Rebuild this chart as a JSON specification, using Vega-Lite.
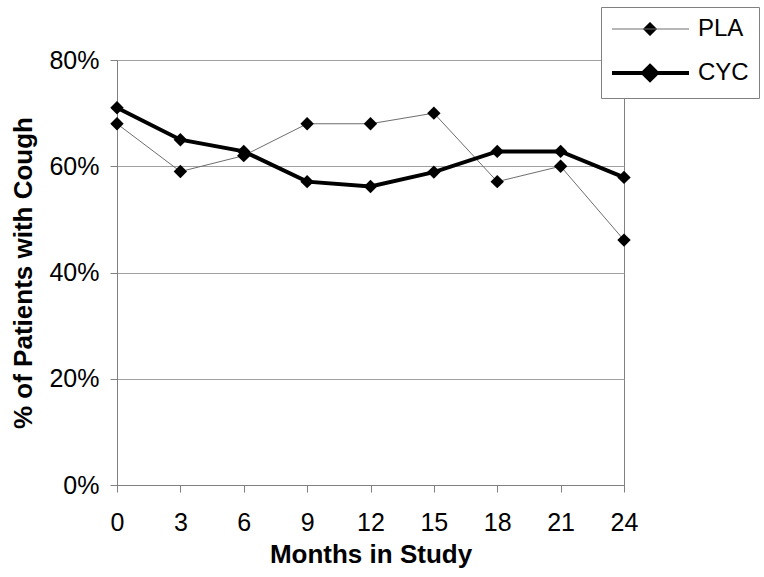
{
  "$schema": "https://vega.github.io/schema/vega-lite/v6.json",
  "width": 507,
  "height": 425,
  "autosize": {"type": "none"},
  "padding": {"left": 117, "top": 60, "right": 140, "bottom": 92},
  "background": "white",
  "config": {
    "font": "Liberation Sans",
    "view": {"stroke": "#808080", "strokeWidth": 1},
    "axis": {
      "labelFont": "Liberation Sans",
      "titleFont": "Liberation Sans",
      "labelFontSize": 25,
      "titleFontSize": 26,
      "labelColor": "black",
      "titleColor": "black",
      "domainColor": "#808080",
      "tickColor": "#808080",
      "gridColor": "#a0a0a0",
      "titleFontWeight": "bold",
      "labelFlush": false,
      "labelBound": false,
      "labelOverlap": false
    }
  },
  "data": {
    "values": [
      {"month": 0, "pct": 0.68, "series": "PLA"},
      {"month": 3, "pct": 0.59, "series": "PLA"},
      {"month": 6, "pct": 0.62, "series": "PLA"},
      {"month": 9, "pct": 0.68, "series": "PLA"},
      {"month": 12, "pct": 0.68, "series": "PLA"},
      {"month": 15, "pct": 0.70, "series": "PLA"},
      {"month": 18, "pct": 0.571, "series": "PLA"},
      {"month": 21, "pct": 0.60, "series": "PLA"},
      {"month": 24, "pct": 0.461, "series": "PLA"},
      {"month": 0, "pct": 0.71, "series": "CYC"},
      {"month": 3, "pct": 0.65, "series": "CYC"},
      {"month": 6, "pct": 0.628, "series": "CYC"},
      {"month": 9, "pct": 0.571, "series": "CYC"},
      {"month": 12, "pct": 0.562, "series": "CYC"},
      {"month": 15, "pct": 0.589, "series": "CYC"},
      {"month": 18, "pct": 0.628, "series": "CYC"},
      {"month": 21, "pct": 0.628, "series": "CYC"},
      {"month": 24, "pct": 0.579, "series": "CYC"}
    ]
  },
  "encoding": {
    "x": {
      "field": "month",
      "type": "quantitative",
      "scale": {"domain": [0, 24], "nice": false},
      "axis": {
        "values": [0, 3, 6, 9, 12, 15, 18, 21, 24],
        "grid": false,
        "title": "Months in Study",
        "labelPadding": 18,
        "tickSize": 7,
        "titlePadding": 6
      }
    },
    "y": {
      "field": "pct",
      "type": "quantitative",
      "scale": {"domain": [0, 0.8], "nice": false},
      "axis": {
        "values": [0, 0.2, 0.4, 0.6, 0.8],
        "format": ".0%",
        "title": "% of Patients with Cough",
        "tickSize": 7,
        "labelPadding": 11,
        "titlePadding": 12
      }
    }
  },
  "layer": [
    {
      "mark": {"type": "line"},
      "encoding": {
        "color": {
          "field": "series",
          "type": "nominal",
          "scale": {"domain": ["PLA", "CYC"], "range": ["#6e6e6e", "black"]},
          "legend": {
            "title": null,
            "orient": "none",
            "legendX": 484,
            "legendY": -53,
            "padding": 10,
            "strokeColor": "#808080",
            "fillColor": "white",
            "labelFontSize": 24,
            "labelFont": "Liberation Sans",
            "labelColor": "black",
            "symbolType": "M-1.1,0L6.6,0M2.7,-0.7L3.4,0L2.7,0.7L2,0Z",
            "symbolSize": 400,
            "symbolFillColor": "black",
            "rowPadding": 17,
            "labelOffset": 63
          }
        },
        "strokeWidth": {
          "field": "series",
          "type": "nominal",
          "scale": {"domain": ["PLA", "CYC"], "range": [1, 4]},
          "legend": {
            "title": null,
            "orient": "none",
            "legendX": 484,
            "legendY": -53,
            "padding": 10,
            "strokeColor": "#808080",
            "fillColor": "white",
            "labelFontSize": 24,
            "labelFont": "Liberation Sans",
            "labelColor": "black",
            "symbolType": "M-1.1,0L6.6,0M2.7,-0.7L3.4,0L2.7,0.7L2,0Z",
            "symbolSize": 400,
            "symbolFillColor": "black",
            "rowPadding": 17,
            "labelOffset": 63
          }
        }
      }
    },
    {
      "mark": {"type": "point", "shape": "diamond", "filled": true, "color": "black", "size": 180, "opacity": 1}
    }
  ]
}
